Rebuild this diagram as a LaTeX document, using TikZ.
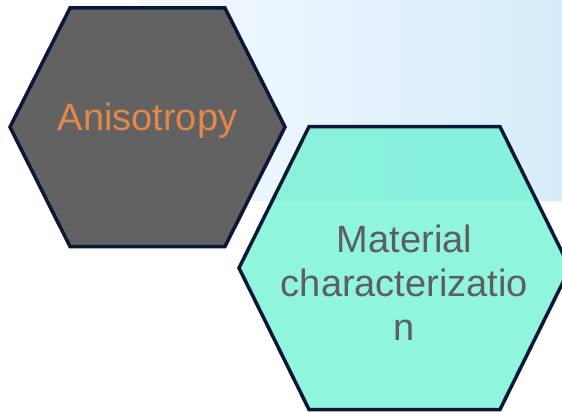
\documentclass[tikz,border=0pt]{standalone}
\usepackage{fontspec}
\setmainfont{Liberation Sans}
\definecolor{bandL}{HTML}{F4F9FE}
\definecolor{bandR}{HTML}{D6ECFA}
\definecolor{hexedge}{HTML}{0B1736}
\definecolor{hexgray}{HTML}{626262}
\definecolor{hexteal}{RGB}{115,242,211}
\definecolor{txtorange}{HTML}{E3874A}
\definecolor{txtgray}{HTML}{5E5E5E}
\tikzset{
  hexcell/.style={draw=hexedge, line width=3.5pt, line join=miter},
  hexlabel/.style={font=\fontsize{38}{44}\selectfont, inner sep=0pt, align=center}
}
\begin{document}
\begin{tikzpicture}[x=1pt,y=-1pt]
  \useasboundingbox (0,0) rectangle (562,412);
  % light blue band behind the upper right
  \shade[left color=bandL, right color=bandR] (140,0) rectangle (562,200);
  % first cell
  \draw[hexcell, fill=hexgray]
    (10,127) -- (70,8) -- (225,8) -- (285,127) -- (225,246.5) -- (70,246.5) -- cycle;
  \node[hexlabel, text=txtorange, anchor=base] (aniso) at (147.5,130) {Anisotropy};
  % second cell, semi-transparent
  \draw[hexcell, fill=hexteal, fill opacity=0.8]
    (239,268) -- (309,126.7) -- (500,126.7) -- (570,268) -- (500,409.5) -- (309,409.5) -- cycle;
  % the base anchor of a multi-line node sits on its last line
  \node[hexlabel, text=txtgray, anchor=base] (matchar) at (404.5,340)
    {Material\\characterizatio\\n};
\end{tikzpicture}
\end{document}
